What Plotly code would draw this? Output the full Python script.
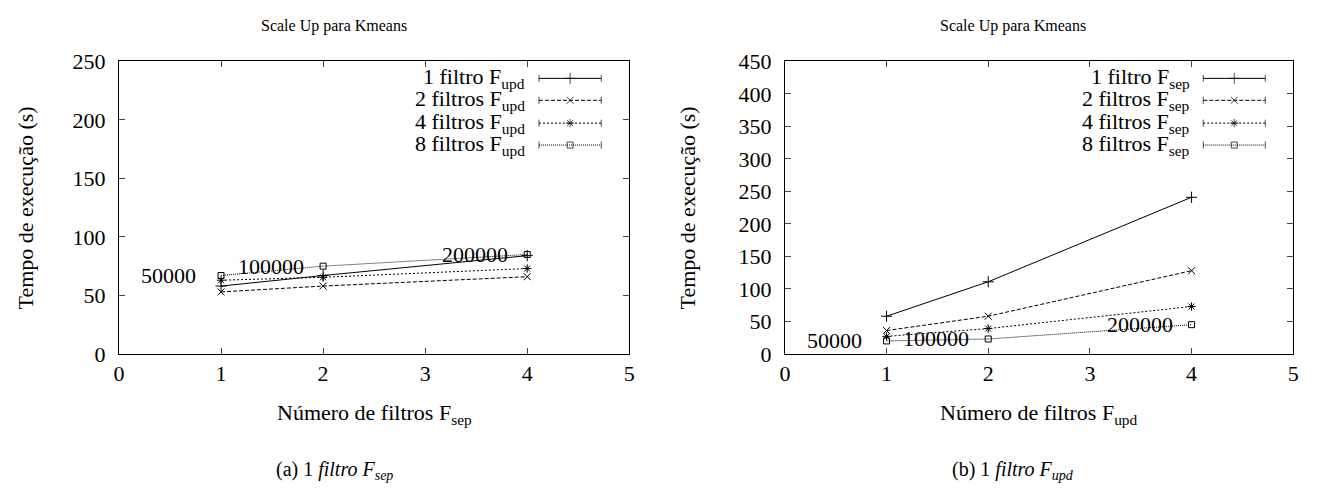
import plotly.graph_objects as go

# Number of filters on the x axis
filtros = [1, 2, 4]

# (a) 1 filtro F_sep -- execution time (s) per F_upd count
a_1 = [58, 67, 84]
a_2 = [53, 58, 66]
a_4 = [63, 65.5, 73]
a_8 = [67, 75, 85]

# (b) 1 filtro F_upd -- execution time (s) per F_sep count
b_1 = [58, 111, 241]
b_2 = [36, 58, 128]
b_4 = [27, 39, 73]
b_8 = [20, 23, 45]

# dataset sizes written next to the points
tamanhos = ["50000", "100000", "200000"]

FONT = "Liberation Serif, Times New Roman, serif"
W, H = 1325, 498

def px_x(p):
    return p / W

def px_y(p):
    return 1 - p / H

dom_a = [px_x(114), px_x(629)]
dom_b = [px_x(786), px_x(1299)]
dom_y = [px_y(360), px_y(52)]

styles = [
    dict(dash="solid", symbol="cross-thin-open", size=8),
    dict(dash="4px,2px", symbol="x-thin-open", size=7),
    dict(dash="2px,2px", symbol="asterisk-open", size=7),
    dict(dash="1px,1px", symbol="square-open", size=6),
]

fig = go.Figure()

panels = [
    ("x", "y", "x3", "y3", [a_1, a_2, a_4, a_8], "upd"),
    ("x2", "y2", "x4", "y4", [b_1, b_2, b_4, b_8], "sep"),
]
nomes = ["1 filtro", "2 filtros", "4 filtros", "8 filtros"]
label_shift = [-23, -17, -17]

for xa, ya, lxa, lya, series, leg_sub in panels:
    for vals, st in zip(series, styles):
        fig.add_trace(go.Scatter(
            x=filtros, y=vals, xaxis=xa, yaxis=ya, mode="lines+markers",
            line=dict(color="black", width=1, dash=st["dash"]),
            marker=dict(symbol=st["symbol"], size=st["size"], color="black",
                        line=dict(color="black", width=1)),
            showlegend=False, hoverinfo="skip"))

    # key: text right-aligned, sample line with marker and end caps
    rows = [0.942, 0.867, 0.789, 0.714]
    for nome, st, r in zip(nomes, styles, rows):
        fig.add_trace(go.Scatter(
            x=[0.823, 0.884, 0.945], y=[r, r, r], xaxis=lxa, yaxis=lya,
            mode="lines+markers",
            line=dict(color="black", width=1, dash=st["dash"]),
            marker=dict(symbol=["line-ns-open", st["symbol"], "line-ns-open"],
                        size=[5, st["size"], 5], color="black",
                        line=dict(color="black", width=1)),
            showlegend=False, hoverinfo="skip"))
        fig.add_annotation(
            x=0.800, y=r, xref=lxa, yref=lya, xanchor="right", yanchor="middle",
            text=f"{nome} F<sub>{leg_sub}</sub>", showarrow=False,
            font=dict(family=FONT, size=22, color="black"))

    # dataset size labels beside the 8-filter points
    for xi, yi, t, sh in zip(filtros, series[3], tamanhos, label_shift):
        fig.add_annotation(
            x=xi, y=yi, xref=xa, yref=ya, xanchor="right", yanchor="middle",
            xshift=sh, text=t, showarrow=False,
            font=dict(family=FONT, size=22, color="black"))

axis_common = dict(
    showline=True, linecolor="black", linewidth=1, mirror="ticks",
    ticks="inside", ticklen=6, tickcolor="#444", tickwidth=1,
    showgrid=False, zeroline=False,
    tickfont=dict(family=FONT, size=22, color="black"),
)

fig.update_layout(
    width=W, height=H, margin=dict(l=0, r=0, t=0, b=0),
    paper_bgcolor="white", plot_bgcolor="white",
    font=dict(family=FONT, color="black"),
    xaxis=dict(domain=dom_a, range=[0, 5], dtick=1, anchor="y", **axis_common),
    yaxis=dict(domain=dom_y, range=[0, 250], dtick=50, anchor="x",
               ticklabelstandoff=8, **axis_common),
    xaxis2=dict(domain=dom_b, range=[0, 5], dtick=1, anchor="y2", **axis_common),
    yaxis2=dict(domain=dom_y, range=[0, 450], dtick=50, anchor="x2",
                ticklabelstandoff=8, **axis_common),
    # unit-square overlays used to position the keys
    xaxis3=dict(range=[0, 1], visible=False, overlaying="x", anchor="y3"),
    yaxis3=dict(range=[0, 1], visible=False, overlaying="y", anchor="x3"),
    xaxis4=dict(range=[0, 1], visible=False, overlaying="x2", anchor="y4"),
    yaxis4=dict(range=[0, 1], visible=False, overlaying="y2", anchor="x4"),
)

def note(x, y, text, size=22, angle=0):
    fig.add_annotation(x=x, y=y, xref="paper", yref="paper", text=text,
                       showarrow=False, textangle=angle,
                       xanchor="center", yanchor="middle",
                       font=dict(family=FONT, size=size, color="black"))

ymid = (dom_y[0] + dom_y[1]) / 2
for dom, yx, capx, sub_x, letra in [
    (dom_a, px_x(20), px_x(331), "sep", "a"),
    (dom_b, px_x(688), px_x(1016), "upd", "b"),
]:
    note(capx, px_y(15), "Scale Up para Kmeans", size=16)
    note((dom[0] + dom[1]) / 2, px_y(423), f"Número de filtros F<sub>{sub_x}</sub>")
    note(yx, ymid, "Tempo de execução (s)", angle=-90)
    note(capx, px_y(483),
         f"({letra}) 1 <i>filtro F<sub>{sub_x}</sub></i>", size=20)

fig.write_html("out.html")
